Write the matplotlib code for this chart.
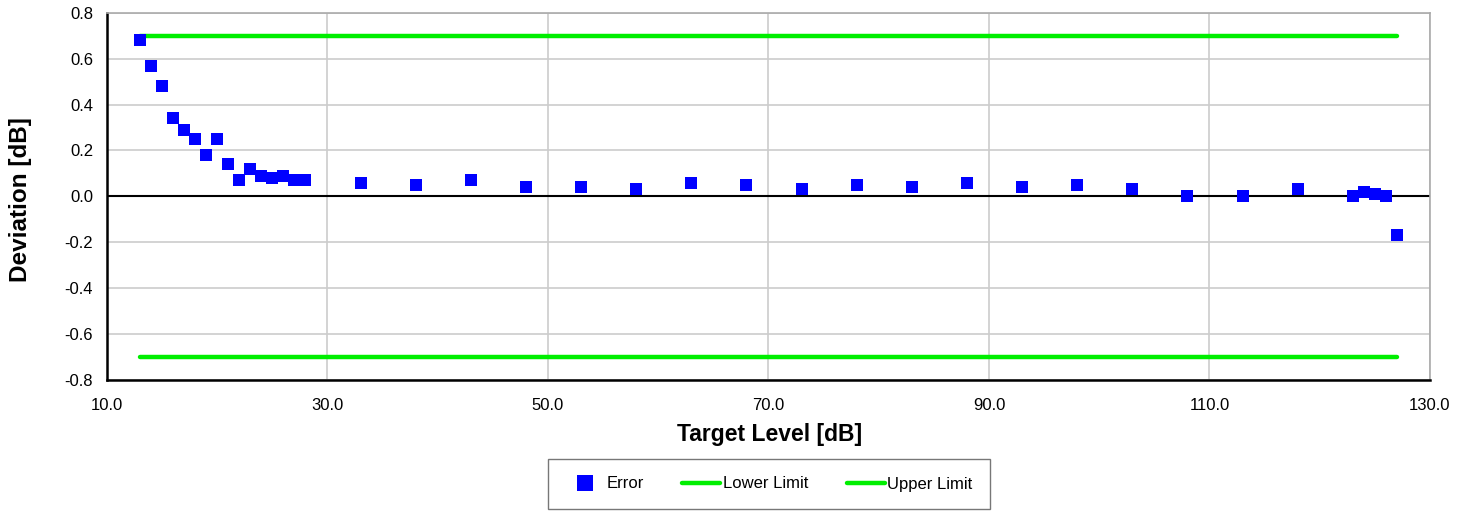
import matplotlib
matplotlib.use("Agg")
import matplotlib.pyplot as plt
from matplotlib.lines import Line2D

plt.rcParams['font.family'] = ['Liberation Sans', 'DejaVu Sans']

target_level = [13, 14, 15, 16, 17, 18, 19, 20, 21, 22, 23, 24, 25, 26, 27, 28,
                33, 38, 43, 48, 53, 58, 63, 68, 73, 78, 83, 88, 93, 98, 103,
                108, 113, 118, 123, 124, 125, 126, 127]
error = [0.68, 0.57, 0.48, 0.34, 0.29, 0.25, 0.18, 0.25, 0.14, 0.07, 0.12, 0.09,
         0.08, 0.09, 0.07, 0.07,
         0.06, 0.05, 0.07, 0.04, 0.04, 0.03, 0.06, 0.05, 0.03, 0.05, 0.04, 0.06,
         0.04, 0.05, 0.03, 0.00, 0.00, 0.03, 0.00, 0.02, 0.01, 0.00, -0.17]
limit_x = [13, 127]
lower_limit = [-0.7, -0.7]
upper_limit = [0.7, 0.7]
x_ticks = [10, 30, 50, 70, 90, 110, 130]
y_ticks = [-0.8, -0.6, -0.4, -0.2, 0.0, 0.2, 0.4, 0.6, 0.8]

fig = plt.figure(figsize=(14.68, 5.12), dpi=100)
ax = fig.add_axes([107 / 1468, 1 - 379.5 / 512, (1430 - 107) / 1468, (379.5 - 13) / 512])

ax.set_xlim(10, 130)
ax.set_ylim(-0.8, 0.8)
ax.set_xticks(x_ticks)
ax.set_xticklabels([f"{v:.1f}" for v in x_ticks])
ax.set_yticks(y_ticks)
ax.set_yticklabels([f"{v:.1f}" for v in y_ticks])
ax.grid(True, color='#cccccc', linewidth=1.2)
ax.set_axisbelow(True)
ax.axhline(0, color='black', linewidth=1.5, zorder=2)

green = '#00ee00'
ax.plot(limit_x, lower_limit, color=green, linewidth=3.2, solid_capstyle='round', zorder=3)
ax.plot(limit_x, upper_limit, color=green, linewidth=3.2, solid_capstyle='round', zorder=3)
ax.plot(target_level, error, linestyle='none', marker='s', markersize=8.6,
        color='#0000ff', markeredgewidth=0, zorder=4)

for s in ['top', 'right']:
    ax.spines[s].set_color('#aaaaaa')
    ax.spines[s].set_linewidth(1.2)
for s in ['left', 'bottom']:
    ax.spines[s].set_color('black')
    ax.spines[s].set_linewidth(1.8)
ax.tick_params(length=0, labelsize=12, colors='black', pad=10)
ax.tick_params(axis='x', pad=13)

ax.set_xlabel('Target Level [dB]', fontsize=16.5, fontweight='bold')
ax.set_ylabel('Deviation [dB]', fontsize=17.5, fontweight='bold')
ax.xaxis.label.set_va('center')
ax.yaxis.label.set_va('center')
ax.xaxis.set_label_coords(0.501, (379.5 - 434) / 366.5)
ax.yaxis.set_label_coords((21 - 107) / 1323, (379.5 - 200) / 366.5)

handles = [
    Line2D([], [], linestyle='none', marker='s', markersize=11, color='#0000ff', markeredgewidth=0),
    Line2D([], [], color=green, linewidth=3.2, solid_capstyle='round'),
    Line2D([], [], color=green, linewidth=3.2, solid_capstyle='round'),
]
leg = fig.legend(handles, ['Error', 'Lower Limit', 'Upper Limit'], ncol=3,
                 loc='center', bbox_to_anchor=(769 / 1468, 1 - 484 / 512),
                 frameon=True, fancybox=False, fontsize=12, handlelength=2.3,
                 columnspacing=2.3, handletextpad=0.15, borderpad=1.05,
                 edgecolor='#555555', borderaxespad=0)
leg.get_frame().set_linewidth(1.0)

fig.savefig('out.png', dpi=100)
